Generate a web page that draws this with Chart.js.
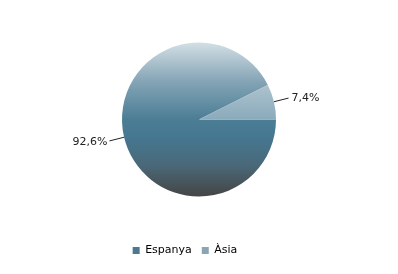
<!DOCTYPE html>
<html>
<head>
<meta charset="utf-8">
<script src="https://cdn.jsdelivr.net/npm/chart.js@4/dist/chart.umd.min.js"></script>
<style>
    html, body { margin: 0; padding: 0; background: #fff; }
    #wrap { width: 398px; height: 274px; }
</style>
</head>
<body>
<div id="wrap"><canvas id="myChart" width="398" height="274"></canvas></div>
<script>
const categories = ['Espanya', 'Àsia'];
const percentages = [92.6, 7.4];
const valueLabels = ['92,6%', '7,4%'];

const pieRadius = 77;

// degradat vertical, com a l'original
const makeGradient = (chart, light) => {
    const area = chart.chartArea;
    if (!area) return light ? '#83a5b5' : '#45778f';
    const cy = (area.top + area.bottom) / 2;
    const g = chart.ctx.createLinearGradient(0, cy - pieRadius, 0, cy + pieRadius);
    if (light) {
        g.addColorStop(0, '#dfe8ed');
        g.addColorStop(0.3, '#a9c0cc');
        g.addColorStop(0.5, '#8aaabb');
        g.addColorStop(1, '#7c7c7c');
    } else {
        g.addColorStop(0, '#d3dfe5');
        g.addColorStop(0.25, '#85a5b6');
        g.addColorStop(0.5, '#4b7d95');
        g.addColorStop(0.62, '#457790');
        g.addColorStop(0.8, '#4a6878');
        g.addColorStop(1, '#454545');
    }
    return g;
};

const labelLines = {
    id: 'labelLines',
    afterLayout(chart) {
        // la llegenda de l'original no està centrada sota el pastís
        chart.legend.left -= 14;
        chart.legend.right -= 14;
    },
    afterDatasetsDraw(chart) {
        const ctx = chart.ctx;
        const meta = chart.getDatasetMeta(0);
        meta.data.forEach((arc, i) => {
            const mid = (arc.startAngle + arc.endAngle) / 2;
            const r = arc.outerRadius;
            const x1 = arc.x + Math.cos(mid) * r;
            const y1 = arc.y + Math.sin(mid) * r;
            const x2 = arc.x + Math.cos(mid) * (r + 15);
            const y2 = arc.y + Math.sin(mid) * (r + 16);
            const right = Math.cos(mid) >= 0;
            ctx.save();
            ctx.strokeStyle = '#222';
            ctx.lineWidth = 1;
            ctx.beginPath();
            ctx.moveTo(x1, y1);
            ctx.lineTo(x2, y2);
            ctx.stroke();
            ctx.fillStyle = '#222';
            ctx.font = '11px "DejaVu Sans"';
            ctx.textBaseline = 'middle';
            ctx.textAlign = right ? 'left' : 'right';
            ctx.fillText(valueLabels[i], x2 + (right ? 3 : -2), y2 + (right ? 0 : 1));
            ctx.restore();
        });
    }
};

new Chart(document.getElementById('myChart'), {
    type: 'pie',
    data: {
        labels: categories,
        datasets: [{
            data: percentages,
            backgroundColor: (c) => makeGradient(c.chart, c.dataIndex === 1),
            borderWidth: 0,
            radius: pieRadius,
        }]
    },
    options: {
        responsive: false,
        animation: false,
        rotation: 90,
        layout: { padding: { top: 4, bottom: 8 } },
        plugins: {
            legend: {
                position: 'bottom',
                labels: {
                    boxWidth: 7,
                    boxHeight: 7,
                    padding: 10,
                    color: '#444',
                    font: { family: 'DejaVu Sans', size: 11 },
                    generateLabels(chart) {
                        return categories.map((name, i) => ({
                            text: name,
                            fillStyle: i === 0 ? '#4b7a90' : '#8aa6b5',
                            strokeStyle: 'transparent',
                            lineWidth: 0,
                            index: i,
                            hidden: false
                        }));
                    }
                }
            },
            tooltip: { enabled: false }
        }
    },
    plugins: [labelLines]
});
</script>
</body>
</html>
